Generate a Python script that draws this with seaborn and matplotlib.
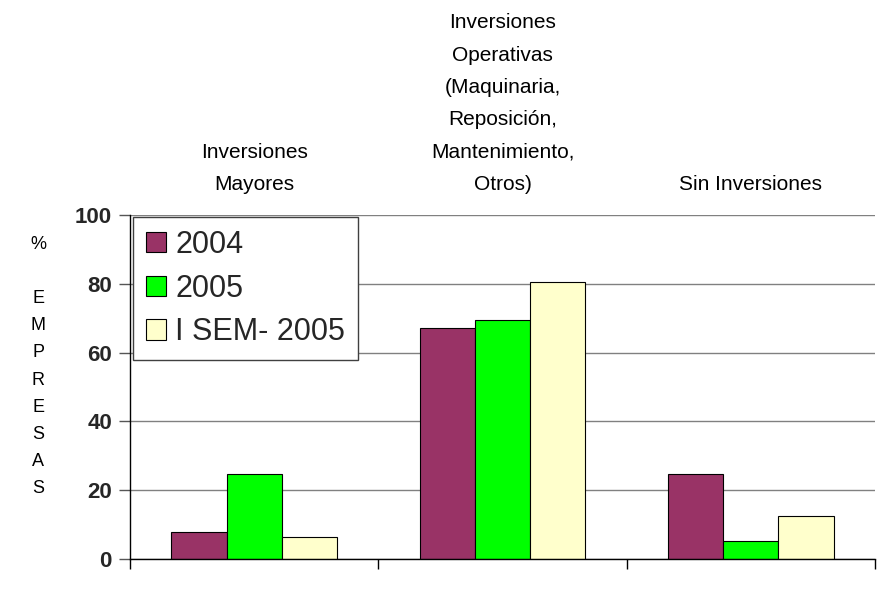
import matplotlib
matplotlib.use("Agg")
import matplotlib.pyplot as plt
import seaborn as sns
import pandas as pd
from matplotlib.patches import Patch
from matplotlib.transforms import blended_transform_factory

# Categories of investment (shown as headers above each group)
categories = [
    "Inversiones\nMayores",
    "Inversiones\nOperativas\n(Maquinaria,\nReposición,\nMantenimiento,\nOtros)",
    "Sin Inversiones",
]
series = ["2004", "2005", "I SEM- 2005"]
values_2004 = [7.8, 67.1, 24.6]
values_2005 = [24.6, 69.5, 5.2]
values_sem = [6.3, 80.6, 12.6]
colors = ["#993366", "#00FF00", "#FFFFCC"]
y_ticks = [0, 20, 40, 60, 80, 100]

rows = []
for name, vals in zip(series, [values_2004, values_2005, values_sem]):
    for cat, v in zip(categories, vals):
        rows.append({"categoria": cat, "serie": name, "valor": v})
df = pd.DataFrame(rows)

sns.set_theme(style="white")
plt.rcParams["font.family"] = ["Liberation Sans", "DejaVu Sans"]

fig = plt.figure(figsize=(8.81, 5.98), dpi=100)
W, H = 881, 598
ax = fig.add_axes([130 / W, 39 / H, 745 / W, 344 / H])

sns.barplot(
    data=df, x="categoria", y="valor", hue="serie", order=categories,
    hue_order=series, palette=colors, width=0.667, saturation=1,
    edgecolor="black", linewidth=0.8, legend=False, ax=ax,
)

ax.set_xlim(-0.5, 2.5)
ax.set_ylim(0, 100)
ax.set_yticks(y_ticks)
ax.set_yticklabels([str(t) for t in y_ticks], fontsize=16, fontweight="bold")
ax.set_xticks([-0.5, 0.5, 1.5, 2.5])
ax.set_xticklabels([])
ax.set_xlabel("")
ax.set_ylabel("")
ax.tick_params(axis="x", bottom=True, length=7, width=1, color="black", direction="out")
ax.tick_params(axis="y", left=True, length=8, width=1, color="#555555", direction="out", pad=5)

ax.yaxis.grid(True, color="#808080", linewidth=1)
ax.xaxis.grid(False)
ax.set_axisbelow(True)
for side in ["top", "right"]:
    ax.spines[side].set_visible(False)
for side in ["left", "bottom"]:
    ax.spines[side].set_visible(True)
    ax.spines[side].set_color("black")
    ax.spines[side].set_linewidth(1)

# Group headers above the plot area
trans = blended_transform_factory(ax.transData, ax.transAxes)
for i, lab in enumerate(categories):
    ax.text(i, 1.061, lab, transform=trans, ha="center", va="bottom",
            fontsize=15, linespacing=1.89, color="black")

# Vertical axis caption
fig.text(38 / W, 1 - 366.5 / H, "%\n\nE\nM\nP\nR\nE\nS\nA\nS",
         ha="center", va="center", fontsize=13, linespacing=1.78, color="black")

handles = [Patch(facecolor=c, edgecolor="black", linewidth=0.8) for c in colors]
leg = ax.legend(
    handles, series, loc="upper left",
    bbox_to_anchor=(133 / W, 1 - 217 / H), bbox_transform=fig.transFigure,
    fontsize=22, frameon=True, fancybox=False, framealpha=1,
    edgecolor="#404040", borderaxespad=0, borderpad=0.42,
    handlelength=0.66, handleheight=0.66, handletextpad=0.3, labelspacing=0.45,
)
leg.get_frame().set_linewidth(1)

fig.savefig("out.png", dpi=100)
